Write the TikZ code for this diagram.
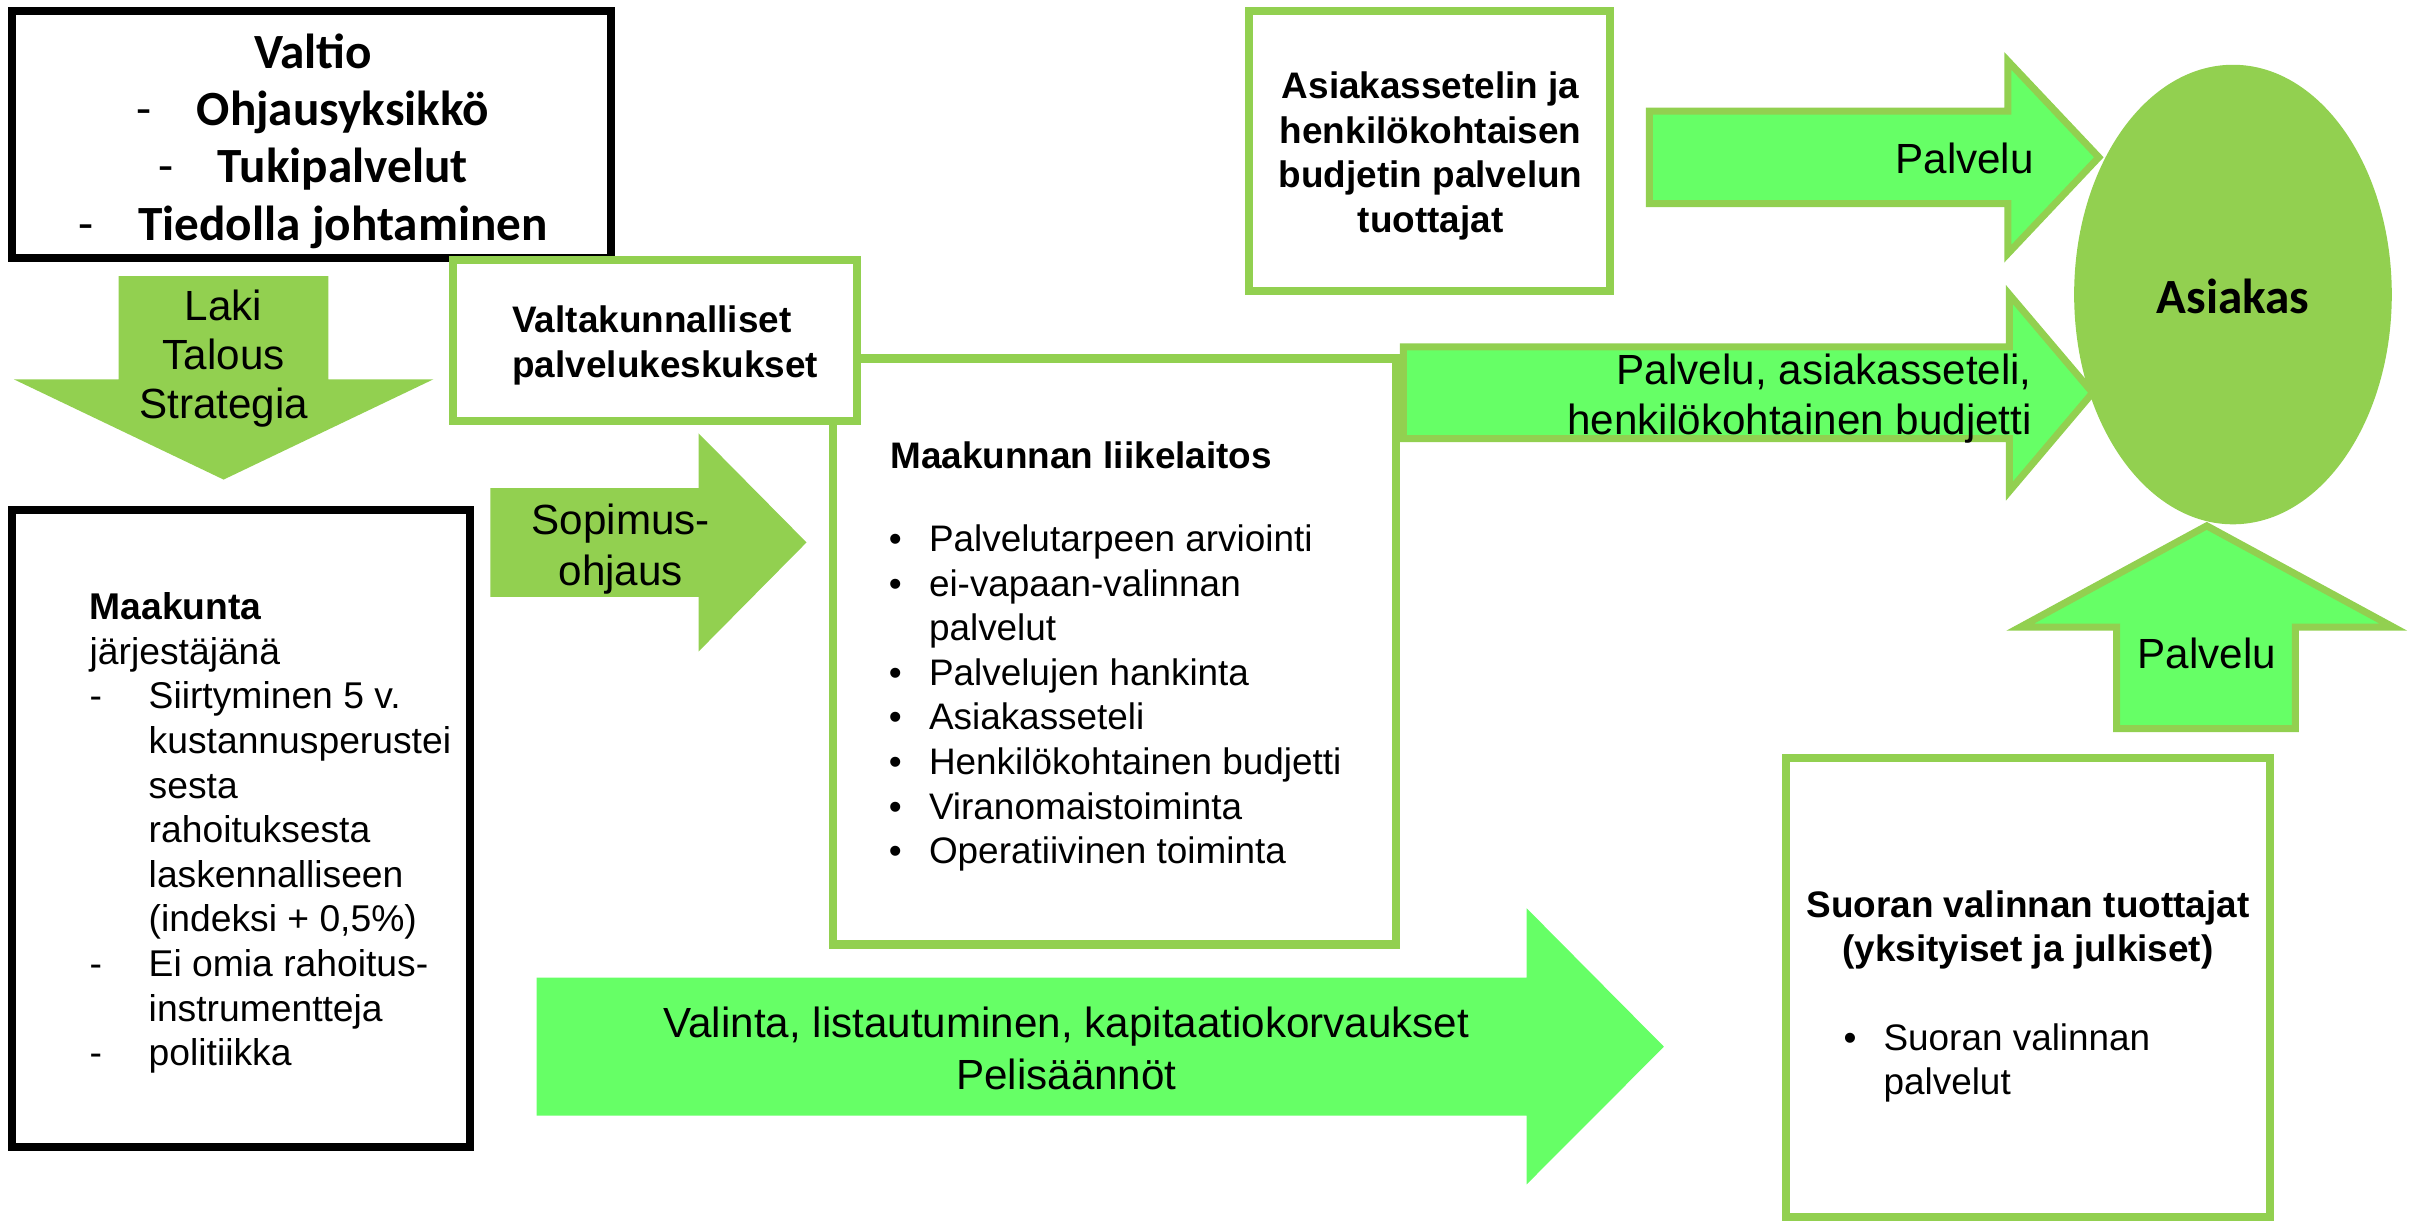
\documentclass[tikz,border=0pt]{standalone}
\usepackage{fontspec}
\setmainfont{Liberation Sans}
\newfontfamily\calibri{Carlito}
\definecolor{leaf}{HTML}{92D050}
\definecolor{lime}{HTML}{66FF66}
\newcommand{\bul}{\makebox[11.4pt][l]{\textbullet}}
\newcommand{\hang}{\makebox[11.4pt]{}}
\newcommand{\dashitem}{\makebox[16.8pt][l]{-}}
\newcommand{\dashhang}{\makebox[16.8pt]{}}
\newcommand{\valdash}{\makebox[17pt][l]{\mdseries -}}

\begin{document}
\begin{tikzpicture}
[x=0.1542mm,y=-0.1542mm,
 blackbox/.style={draw=black,line width=2.3pt,fill=white},
 greenbox/.style={draw=leaf,line width=2.3pt,fill=white},
 outlined/.style={fill=lime,draw=leaf,line width=2pt,line join=miter},
 big/.style={inner sep=0pt,font=\fontsize{12}{14.5}\selectfont,align=center},
 body/.style={inner sep=0pt,font=\fontsize{10.5}{12.7}\selectfont,align=left},
 head/.style={inner sep=0pt,font=\calibri\bfseries\fontsize{14}{16.3}\selectfont,align=center}]
\useasboundingbox (0,0) rectangle (1568,792);

% boxes
\draw[greenbox] (540,232.5) rectangle (905.5,612.5);
\draw[blackbox] (8,7) rectangle (396.5,167.5);
\draw[greenbox] (294,168.7) rectangle (556,273);
\draw[blackbox] (8,331) rectangle (304.5,744);
\draw[greenbox] (810,7) rectangle (1044,189);
\draw[greenbox] (1158,491.5) rectangle (1472,789);
\fill[leaf] (1448,191) ellipse [x radius=103,y radius=149];

% block arrows
\fill[leaf] (77,179) -- (213,179) -- (213,246) -- (281,246) -- (145,311) -- (9,246) -- (77,246) -- cycle;
\fill[leaf] (318,316.5) -- (453,316.5) -- (453,281) -- (523,351.75) -- (453,422.5) -- (453,387) -- (318,387) -- cycle;
\fill[lime] (348,634) -- (990,634) -- (990,589) -- (1079,678.75) -- (990,768) -- (990,723.5) -- (348,723.5) -- cycle;
\filldraw[outlined] (1069.5,72) -- (1302,72) -- (1302,39.5) -- (1361,102) -- (1302,164.5) -- (1302,132) -- (1069.5,132) -- cycle;
\filldraw[outlined] (910,225) -- (1303,225) -- (1303,191) -- (1357,254.7) -- (1303,318.5) -- (1303,284.5) -- (910,284.5) -- cycle;
\filldraw[outlined] (1372.5,472.5) -- (1372.5,406.7) -- (1310,406.7) -- (1431,341) -- (1552,406.7) -- (1488.5,406.7) -- (1488.5,472.5) -- cycle;

% texts
\node[head] (valtio) at (203,91.4) {Valtio\\\valdash Ohjausyksikkö\\\valdash Tukipalvelut\\\valdash Tiedolla johtaminen};
\node[big,font=\fontsize{12}{14}\selectfont] (laki) at (145,232.5) {Laki\\Talous\\Strategia};
\node[big] (sopimus) at (402.5,356) {Sopimus-\\ohjaus};
\node[body,font=\bfseries\fontsize{10.5}{12.8}\selectfont,anchor=west] (valtak) at (331.8,224.3) {Valtakunnalliset\\palvelukeskukset};
\node[body,font=\bfseries\fontsize{10.5}{12.7}\selectfont,anchor=west] (liiketitle) at (577,295) {Maakunnan liikelaitos};
\node[body,anchor=west] (liikelist) at (576,452.7) {\bul Palvelutarpeen arviointi\\\bul ei-vapaan-valinnan\\\hang palvelut\\\bul Palvelujen hankinta\\\bul Asiakasseteli\\\bul Henkilökohtainen budjetti\\\bul Viranomaistoiminta\\\bul Operatiivinen toiminta};
\node[body,font=\fontsize{10.6}{12.7}\selectfont,anchor=west] (maakunta) at (57.7,540.2) {\textbf{Maakunta}\\järjestäjänä\\\dashitem Siirtyminen 5 v.\\\dashhang kustannusperustei\\\dashhang sesta\\\dashhang rahoituksesta\\\dashhang laskennalliseen\\\dashhang (indeksi + 0,5\%)\\\dashitem Ei omia rahoitus-\\\dashhang instrumentteja\\\dashitem politiikka};
\node[big,font=\bfseries\fontsize{10.5}{12.7}\selectfont] (tuottajat) at (927.7,101.2) {Asiakassetelin ja\\henkilökohtaisen\\budjetin palvelun\\tuottajat};
\node[big] (palvelu1) at (1274,103) {Palvelu};
\node[big,align=right,anchor=east,font=\fontsize{12}{14.3}\selectfont] (palvelu2) at (1318,258.7) {Palvelu, asiakasseteli,\\henkilökohtainen budjetti};
\node[head] (asiakas) at (1448,192) {Asiakas};
\node[big] (palvelu3) at (1431,424) {Palvelu};
\node[big,font=\fontsize{12}{14.7}\selectfont] (valinta) at (691.5,680) {Valinta, listautuminen, kapitaatiokorvaukset\\Pelisäännöt};
\node[big,font=\bfseries\fontsize{10.5}{12.6}\selectfont] (suoran) at (1315,603) {Suoran valinnan tuottajat\\(yksityiset ja julkiset)};
\node[body,anchor=west] (suoranlist) at (1195,689.2) {\bul Suoran valinnan\\\hang palvelut};
\end{tikzpicture}
\end{document}
